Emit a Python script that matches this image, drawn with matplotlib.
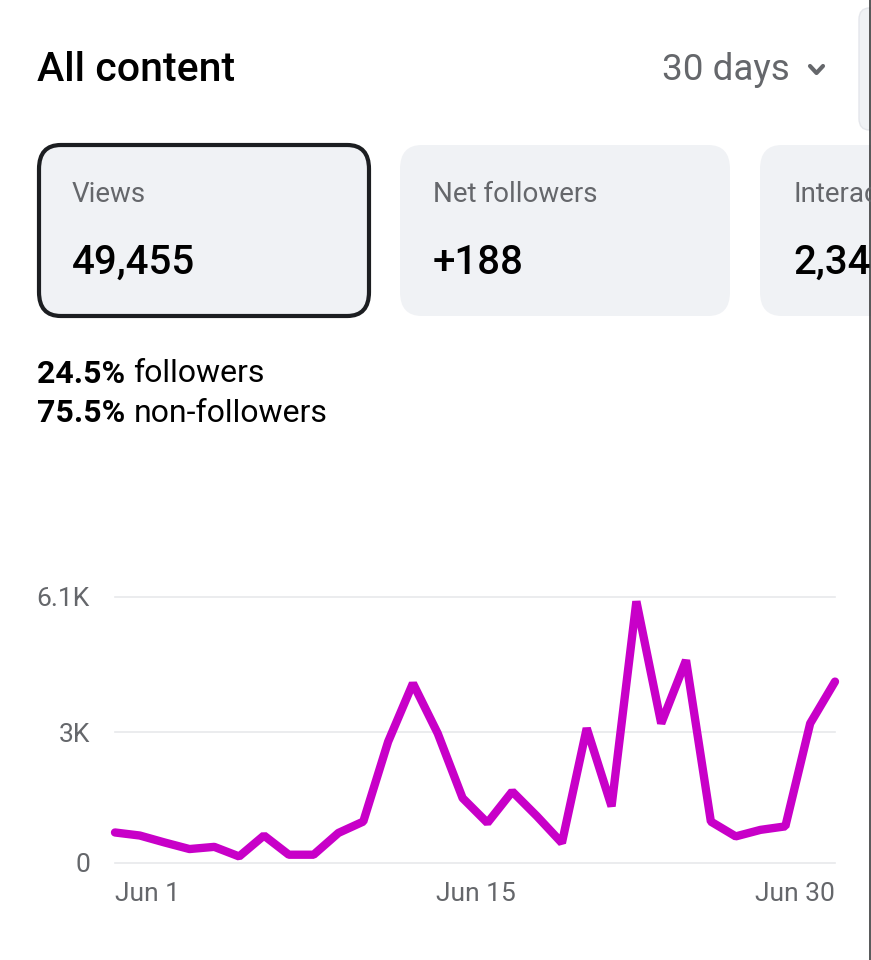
import matplotlib.pyplot as plt
import matplotlib.transforms as mtransforms
from matplotlib.patches import FancyBboxPatch
import numpy as np

plt.rcParams['font.family'] = ['Roboto', 'DejaVu Sans']

# daily views (thousands), Jun 1 .. Jun 30
views = [0.70, 0.63, 0.47, 0.32, 0.37, 0.15, 0.63, 0.19, 0.19, 0.69,
         0.95, 2.78, 4.12, 2.97, 1.49, 0.92, 1.64, 1.07, 0.46, 3.09,
         1.30, 6.00, 3.20, 4.65, 0.95, 0.61, 0.76, 0.84, 3.20, 4.16]
ytick_vals = [0, 3.0, 6.1]
ytick_labels = ["0", "3K", "6.1K"]
xtick_idx = [0, 14, 29]
xtick_labels = ["Jun 1", "Jun 15", "Jun 30"]

card_titles = ["Views", "Net followers", "Interactions"]
card_values = ["49,455", "+188", "2,34"]
follower_pct = ["24.5%", "75.5%"]
follower_lbl = ["followers", "non-followers"]

W, H = 871, 960
GRAY = "#65676B"
CARD = "#F0F2F5"
LINE = "#C800C8"

fig = plt.figure(figsize=(W / 100, H / 100), dpi=100)
fig.patch.set_facecolor("white")


def fx(x):
    return x / W


def fy(y):
    return 1 - y / H


# header
fig.text(fx(37), fy(70), "All content", fontsize=29.5, fontweight="medium",
         color="black", va="center", ha="left")
fig.text(fx(662), fy(70), "30 days", fontsize=26.5, color=GRAY, va="center", ha="left")
fig.add_artist(plt.Line2D([fx(810), fx(816.5), fx(823)], [fy(66), fy(73), fy(66)],
                          color=GRAY, lw=3, solid_capstyle="round", solid_joinstyle="round"))

# partially visible card at top right
fig.add_artist(FancyBboxPatch((fx(859), fy(130)), fx(60), fy(8) - fy(130),
                              boxstyle="round,pad=0,rounding_size=0.012",
                              facecolor=CARD, edgecolor="#E4E6EB", lw=1))

# metric cards
card_x = [37, 398, 758]
for i in range(3):
    x0 = card_x[i]
    edge = "#1C1E21" if i == 0 else "none"
    card = FancyBboxPatch((fx(x0 + 2), fy(316)), fx(330), fy(145) - fy(316),
                          boxstyle="round,pad=0,rounding_size=0.025",
                          facecolor=CARD, edgecolor=edge, lw=3 if i == 0 else 0)
    fig.add_artist(card)
    t1 = fig.text(fx(x0 + 35), fy(195), card_titles[i], fontsize=20, color=GRAY,
                  va="center", ha="left")
    t2 = fig.text(fx(x0 + 35), fy(263), card_values[i], fontsize=29, color="black",
                  fontweight="medium", va="center", ha="left")
    if i == 2:
        # third card runs off the right edge of the screen
        clip = FancyBboxPatch((fx(x0), fy(318)), fx(869 - x0), fy(143) - fy(318),
                              boxstyle="square,pad=0", transform=fig.transFigure)
        t1.set_clip_path(clip)
        t2.set_clip_path(clip)

# followers split
fig.canvas.draw()
for i in range(2):
    t = fig.text(fx(37), fy(374 + i * 39), follower_pct[i] + " ", fontsize=23,
                 fontweight="bold", color="black", va="center", ha="left")
    bb = t.get_window_extent(renderer=fig.canvas.get_renderer())
    fig.text(bb.x1 / W, fy(374 + i * 39), follower_lbl[i], fontsize=23,
             color="black", va="center", ha="left")

# thin right edge line
fig.add_artist(plt.Line2D([fx(869.5), fx(869.5)], [0, 1], color="#3A3B3C", lw=1.2))

# chart
x0p, x1p, y0p, y1p = 115, 835, 863, 597
ax = fig.add_axes([fx(x0p), fy(y0p), fx(x1p) - fx(x0p), fy(y1p) - fy(y0p)])
days = np.arange(len(views))
ax.plot(days, views, color=LINE, lw=6, solid_joinstyle="bevel",
        solid_capstyle="round", clip_on=False, zorder=3)
ax.set_xlim(0, len(views) - 1)
ax.set_ylim(0, 6.1)
for v in ytick_vals:
    ax.axhline(v, color="#E8E9EB", lw=1.2, zorder=1, clip_on=False)
for s in ax.spines.values():
    s.set_visible(False)
ax.set_yticks(ytick_vals)
ax.set_yticklabels(ytick_labels, fontsize=19, color=GRAY)
ax.tick_params(axis="y", length=0, pad=18)
ax.set_xticks(xtick_idx)
ax.set_xticklabels(xtick_labels, fontsize=19, color=GRAY)
ax.tick_params(axis="x", length=0, pad=14)
labels = ax.get_xticklabels()
labels[0].set_ha("left")
labels[1].set_ha("center")
labels[2].set_ha("right")
labels[1].set_transform(labels[1].get_transform() +
                        mtransforms.ScaledTranslation(0.13, 0, fig.dpi_scale_trans))
ax.set_facecolor("none")

fig.savefig("out.png", dpi=100, facecolor="white")
